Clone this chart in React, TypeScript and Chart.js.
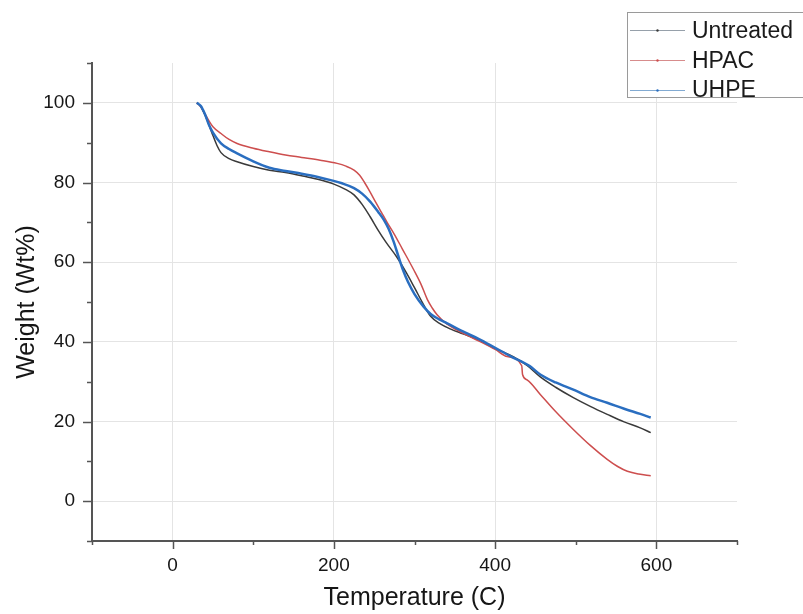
import { useEffect, useRef } from 'react';
import { Chart, registerables } from 'chart.js';

Chart.register(...registerables);

const seriesNames = ['Untreated', 'HPAC', 'UHPE'];
const seriesColors = ['rgb(58,58,58)', 'rgb(205,78,78)', 'rgb(42,110,192)'];
const legendColors = ['rgb(150,160,170)', 'rgb(215,140,140)', 'rgb(130,170,210)'];

const untreatedTemp = [30, 35, 40, 45, 50, 55, 60, 70, 80, 100, 120, 140, 160, 180, 200, 215, 225, 235, 245, 255, 265, 278, 290, 300, 310, 320, 332, 345, 360, 380, 400, 423, 440, 456, 475, 497, 518, 539, 560, 580, 593];
const untreatedWeight = [100, 99, 97, 94.5, 91.8, 89.3, 87.5, 86, 85.2, 84, 83.1, 82.5, 81.7, 80.8, 79.6, 78.2, 76.9, 74.5, 71.4, 68, 64.9, 61.3, 57.3, 53.6, 49.8, 46.4, 44.5, 43.2, 42, 40.4, 38.3, 36.2, 34, 31.2, 28.6, 26, 23.8, 21.8, 19.9, 18.4, 17.2];

const hpacTemp = [30, 35, 40, 45, 50, 60, 70, 80, 100, 120, 140, 160, 183, 204, 215, 225, 232, 238, 245, 252, 259, 266, 275, 285, 299, 308, 316, 322, 328, 340, 360, 380, 400, 415, 433, 434, 440, 456, 475, 497, 518, 539, 552, 564, 578, 593];
const hpacWeight = [100, 99, 97.3, 95.5, 94, 92.3, 90.8, 89.8, 88.6, 87.7, 86.9, 86.3, 85.6, 84.8, 84.1, 83.1, 81.8, 80, 77.6, 75, 72.5, 70, 67, 63.3, 58.1, 54.5, 50.6, 48.5, 46.8, 44.5, 42.2, 40.2, 38.1, 36.3, 34, 31.8, 30.4, 26.8, 22.5, 18, 14, 10.5, 8.7, 7.5, 6.8, 6.4];

const uhpeTemp = [30, 35, 40, 45, 50, 60, 70, 80, 100, 120, 140, 160, 180, 196, 210, 225, 235, 245, 255, 262, 268, 274, 280, 286, 292, 300, 311, 320, 330, 340, 360, 380, 400, 420, 443, 456, 475, 497, 518, 539, 560, 580, 593];
const uhpeWeight = [100, 99.2, 97.2, 94.5, 92.5, 89.8, 88.4, 87.3, 85.3, 83.7, 82.9, 82.2, 81.4, 80.6, 79.8, 78.6, 77.2, 75.2, 72.6, 70.6, 68.3, 65.2, 61.5, 57.9, 55, 52, 48.9, 47, 45.7, 44.7, 42.6, 40.7, 38.5, 36.3, 33.9, 31.8, 29.8, 28, 26.1, 24.7, 23.2, 21.9, 21];

const xTickValues = [0, 200, 400, 600];
const xAllTickValues = [-100, 0, 100, 200, 300, 400, 500, 600, 700];
const yTickValues = [0, 20, 40, 60, 80, 100];
const yAllTickValues = [-10, 0, 10, 20, 30, 40, 50, 60, 70, 80, 90, 100, 110];

const FONT = '"Liberation Sans", Arial, sans-serif';

const toPoints = (t: number[], w: number[]) => t.map((v, i) => ({ x: v, y: w[i] }));

const axisTicksPlugin = {
  id: 'axisTicks',
  afterDraw(chart: any) {
    const { ctx, chartArea } = chart;
    const x = chart.scales.x;
    const y = chart.scales.y;
    ctx.save();
    ctx.strokeStyle = '#555';
    ctx.lineWidth = 1.5;
    xAllTickValues.forEach((v) => {
      const px = Math.round(x.getPixelForValue(v)) + 0.5;
      const len = xTickValues.includes(v) ? 7 : 3;
      ctx.beginPath();
      ctx.moveTo(px, chartArea.bottom);
      ctx.lineTo(px, chartArea.bottom + 1 + len);
      ctx.stroke();
    });
    yAllTickValues.forEach((v) => {
      const py = Math.round(y.getPixelForValue(v)) + 0.5;
      const len = yTickValues.includes(v) ? 8 : 4;
      ctx.beginPath();
      ctx.moveTo(chartArea.left, py);
      ctx.lineTo(chartArea.left - 1 - len, py);
      ctx.stroke();
    });
    ctx.restore();
  },
};

const legendPlugin = {
  id: 'customLegend',
  afterDraw(chart: any) {
    const { ctx } = chart;
    ctx.save();
    const bx = 627.5;
    const by = 12.5;
    const bw = 200;
    const bh = 85;
    ctx.fillStyle = '#fff';
    ctx.fillRect(bx, by, bw, bh);
    ctx.strokeStyle = '#9a9a9a';
    ctx.lineWidth = 1;
    ctx.strokeRect(bx, by, bw, bh);
    seriesNames.forEach((name, i) => {
      const ly = 30 + i * 30;
      ctx.strokeStyle = legendColors[i];
      ctx.lineWidth = 1;
      ctx.beginPath();
      ctx.moveTo(630, ly + 0.5);
      ctx.lineTo(685, ly + 0.5);
      ctx.stroke();
      ctx.fillStyle = seriesColors[i];
      ctx.beginPath();
      ctx.arc(657.5, ly + 0.5, 1.2, 0, Math.PI * 2);
      ctx.fill();
      ctx.fillStyle = '#1a1a1a';
      ctx.font = `23px ${FONT}`;
      ctx.textBaseline = 'alphabetic';
      ctx.textAlign = 'left';
      ctx.fillText(name, 692, ly + 8 - (i === 2 ? 1 : 0));
    });
    ctx.restore();
  },
};

export default function App() {
  const canvasRef = useRef<HTMLCanvasElement | null>(null);

  useEffect(() => {
    if (!canvasRef.current) return;
    const seriesTemps = [untreatedTemp, hpacTemp, uhpeTemp];
    const seriesWeights = [untreatedWeight, hpacWeight, uhpeWeight];
    const widths = [1.5, 1.5, 2.5];
    const orders = [2, 1, 0];
    const chart = new Chart(canvasRef.current, {
      type: 'line',
      data: {
        datasets: seriesNames.map((name, i) => ({
          label: name,
          data: toPoints(seriesTemps[i], seriesWeights[i]),
          borderColor: seriesColors[i],
          backgroundColor: seriesColors[i],
          borderWidth: widths[i],
          pointRadius: 0,
          cubicInterpolationMode: 'monotone',
          fill: false,
          order: orders[i],
        })),
      },
      options: {
        animation: false,
        responsive: true,
        maintainAspectRatio: false,
        layout: { padding: { top: 63, right: 66, left: 0, bottom: 0 } },
        plugins: {
          legend: { display: false },
          tooltip: { enabled: false },
        },
        scales: {
          x: {
            type: 'linear',
            min: -100,
            max: 700,
            afterBuildTicks: (scale: any) => {
              scale.ticks = xTickValues.map((v) => ({ value: v }));
            },
            afterFit: (scale: any) => {
              scale.height = 73;
            },
            grid: { color: '#e4e4e4', lineWidth: 1, drawTicks: false },
            border: { display: true, color: '#555', width: 2 },
            ticks: {
              padding: 13,
              color: '#161616',
              font: { family: FONT, size: 19 },
              maxRotation: 0,
            },
            title: {
              display: true,
              text: 'Temperature (C)',
              color: '#161616',
              font: { family: FONT, size: 25 },
              padding: { top: 0, bottom: 1 },
            },
          },
          y: {
            type: 'linear',
            min: -10,
            max: 110,
            afterBuildTicks: (scale: any) => {
              scale.ticks = yTickValues.map((v) => ({ value: v }));
            },
            afterFit: (scale: any) => {
              scale.width = 92;
            },
            grid: { color: '#e4e4e4', lineWidth: 1, drawTicks: false },
            border: { display: true, color: '#555', width: 2 },
            ticks: {
              padding: 17,
              color: '#161616',
              font: { family: FONT, size: 19 },
            },
            title: {
              display: true,
              text: 'Weight (Wt%)',
              color: '#161616',
              font: { family: FONT, size: 25 },
              padding: { top: 12, bottom: 0 },
            },
          },
        },
      },
      plugins: [axisTicksPlugin, legendPlugin],
    } as any);
    return () => chart.destroy();
  }, []);

  return (
    <div style={{ position: 'absolute', left: 0, top: 0, width: 803, height: 614, background: '#fff' }}>
      <canvas ref={canvasRef} />
    </div>
  );
}
